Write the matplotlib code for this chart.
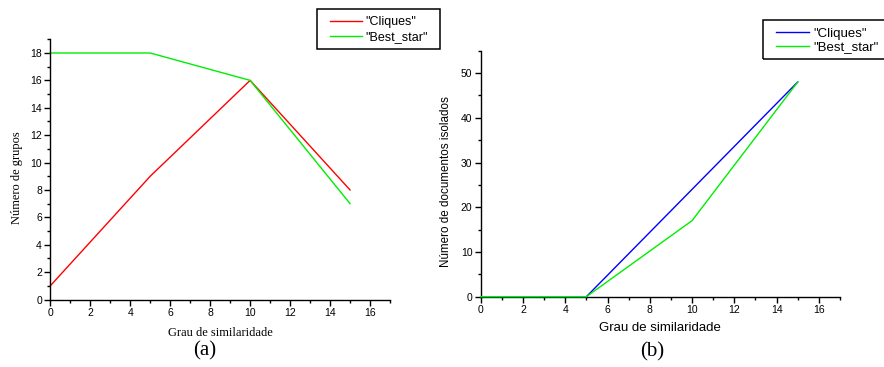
import matplotlib
matplotlib.use('Agg')
import matplotlib.pyplot as plt
from matplotlib.patches import Rectangle
from matplotlib.ticker import MultipleLocator

# data
grau = [0, 5, 10, 15]
grupos_cliques = [1, 9, 16, 8]
grupos_best_star = [18, 18, 16, 7]
isolados_cliques = [0, 0, 24, 48]
isolados_best_star = [0, 0, 17, 48]
legend_labels = ['"Cliques"', '"Best_star"']

W, H = 884, 367
SANS = 'Liberation Sans'
SERIF = 'Liberation Serif'


def style_axes(ax, xmax, ymax, ymajor, yminor):
    ax.set_xlim(0, xmax)
    ax.set_ylim(0, ymax)
    ax.spines['top'].set_visible(False)
    ax.spines['right'].set_visible(False)
    for s in ('left', 'bottom'):
        ax.spines[s].set_linewidth(1.0)
    ax.xaxis.set_major_locator(MultipleLocator(2))
    ax.xaxis.set_minor_locator(MultipleLocator(1))
    ax.yaxis.set_major_locator(MultipleLocator(ymajor))
    ax.yaxis.set_minor_locator(MultipleLocator(yminor))
    ax.tick_params(which='major', direction='out', length=4, width=1, labelsize=7.5, pad=2)
    ax.tick_params(which='minor', direction='out', length=2.5, width=1)
    for lab in ax.get_xticklabels() + ax.get_yticklabels():
        lab.set_fontfamily(SANS)


def boxed_legend(handles, x0, x1, y0, y1, text_top, size, hlen, spacing):
    # frame drawn separately so the horizontal padding can differ from the vertical one
    fig.add_artist(Rectangle((x0 / W, 1 - y1 / H), (x1 - x0) / W, (y1 - y0) / H,
                             transform=fig.transFigure, fill=False, edgecolor='black',
                             linewidth=1.1))
    fig.legend(handles, legend_labels, loc='upper left',
               bbox_to_anchor=(x0 / W + 13 / W, 1 - text_top / H), frameon=False,
               prop={'family': SANS, 'size': size}, handlelength=hlen,
               borderpad=0, labelspacing=spacing, handletextpad=0.3, borderaxespad=0)


fig = plt.figure(figsize=(W / 100, H / 100), dpi=100)

# (a)
ax1 = fig.add_axes([50.3 / W, 1 - 299.5 / H, (390 - 50.3) / W, (299.5 - 39.3) / H])
la1, = ax1.plot(grau, grupos_cliques, color='#ff0000', lw=1, clip_on=False)
la2, = ax1.plot(grau, grupos_best_star, color='#00ee00', lw=1, clip_on=False)
style_axes(ax1, 17, 19, 2, 1)
fig.text(17 / W, 1 - 178 / H, 'Número de grupos', rotation=90, ha='center', va='center',
         family=SERIF, fontsize=9)
fig.text(220 / W, 1 - 333 / H, 'Grau de similaridade', ha='center', va='center',
         family=SERIF, fontsize=9)
fig.text(205 / W, 1 - 351 / H, '(a)', ha='center', va='center', family=SERIF, fontsize=15)
boxed_legend([la1, la2], 317, 440, 8.7, 49, 16.5, 9, 2.55, 0.22)

# (b)
ax2 = fig.add_axes([480.7 / W, 1 - 296.7 / H, (840 - 480.7) / W, (296.7 - 50.7) / H])
lb1, = ax2.plot(grau, isolados_cliques, color='#0000ff', lw=1, clip_on=False, zorder=3)
lb2, = ax2.plot(grau, isolados_best_star, color='#00ee00', lw=1, clip_on=False, zorder=4)
style_axes(ax2, 17, 55, 10, 5)
fig.text(446 / W, 1 - 182 / H, 'Número de documentos isolados', rotation=90, ha='center',
         va='center', family=SANS, fontsize=8.4)
fig.text(660 / W, 1 - 328 / H, 'Grau de similaridade', ha='center', va='center',
         family=SANS, fontsize=9.5)
fig.text(652 / W, 1 - 352 / H, '(b)', ha='center', va='center', family=SERIF, fontsize=15)
boxed_legend([lb1, lb2], 763, 892, 20.5, 59, 27.5, 9.5, 2.5, 0.12)

fig.savefig('out.png', dpi=100)
